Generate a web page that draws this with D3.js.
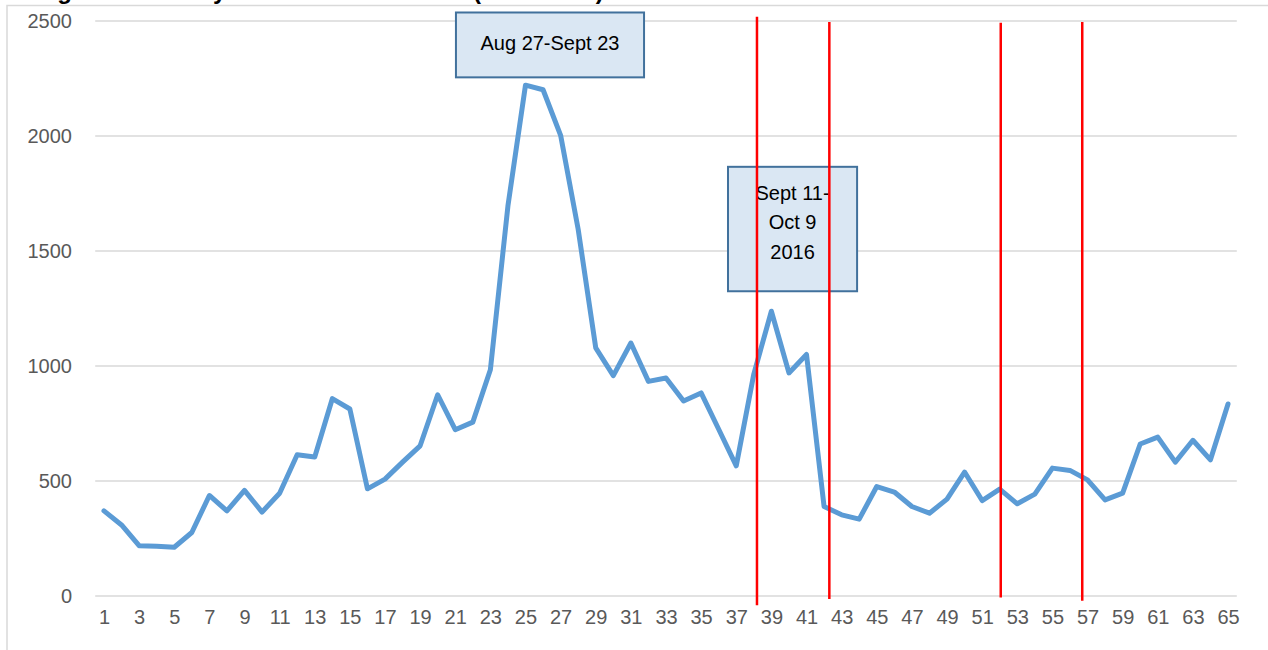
<!DOCTYPE html>
<html>
<head>
<meta charset="utf-8">
<script src="https://cdn.jsdelivr.net/npm/d3@7"></script>
<style>
  body { margin: 0; background: #fff; }
  svg { display: block; font-family: "Liberation Sans", Arial, sans-serif; }
</style>
</head>
<body>
<div id="chart"></div>
<script>
// data
const weeks = d3.range(1, 66)
const values = [370, 309, 219, 216, 212, 276, 437, 370, 459, 365,
                447, 614, 604, 858, 813, 466, 508, 582, 653, 875,
                723, 756, 984, 1696, 2221, 2201, 2003, 1594, 1079, 958,
                1100, 933, 948, 848, 883, 725, 566, 965, 1238, 970,
                1050, 389, 353, 334, 476, 452, 389, 360, 421, 539,
                415, 465, 401, 443, 556, 546, 505, 418, 447, 661,
                691, 582, 677, 592, 835]
const yTicks = [0, 500, 1000, 1500, 2000, 2500]
const xTicks = weeks.filter(w => w % 2 === 1)

// red marker lines (week position, top value, bottom value)
const markerWeeks = [38.18, 42.30, 52.06, 56.70]
const markerTops = [2518, 2496, 2492, 2496]
const markerBottoms = [-40, -13, -6, -21]

// text boxes (week / value extents)
const boxLabels = [["Aug 27-Sept 23"], ["Sept 11-", "Oct 9", "2016"]]
const boxWeeks = [[21.04, 31.75], [36.53, 43.88]]
const boxValues = [[2537, 2255], [1866, 1325]]
const boxTextOffset = [38, 33]

const titleText = "Figure 1: Weekly Tweet Volume Totals (2015-2016)"

// const
const width = 1268
const height = 650
const margin = { top: 21, bottom: 54, left: 95.2, right: 31.2 }

const svg = d3.select("#chart")
    .append("svg")
      .attr("width", width)
      .attr("height", height)

// scales
const x = d3.scaleLinear()
    .domain([0.5, 65.5])
    .range([margin.left, width - margin.right])

const y = d3.scaleLinear()
    .domain([0, 2500])
    .range([height - margin.bottom, margin.top])

// title (cut off at the top, as in the source) and chart frame
svg.append("text")
    .attr("x", 36)
    .attr("y", -1)
    .attr("font-size", 24)
    .attr("font-weight", "bold")
    .attr("fill", "#000")
    .text(titleText)

svg.append("rect")
    .attr("x", 7)
    .attr("y", 5.5)
    .attr("width", 1400)
    .attr("height", 800)
    .attr("fill", "none")
    .attr("stroke", "#d9d9d9")
    .attr("stroke-width", 1.5)

// gridlines
svg.append("g")
    .selectAll("line")
    .data(yTicks)
    .join("line")
      .attr("x1", x(0.5))
      .attr("x2", x(65.5))
      .attr("y1", d => y(d))
      .attr("y2", d => y(d))
      .attr("stroke", "#d9d9d9")
      .attr("stroke-width", 1.5)

// axes
let yAxis = d3.axisLeft(y).tickValues(yTicks).tickFormat(d3.format("d")).tickSize(0).tickPadding(0)
let yAxisGroup = svg.append("g")
    .attr("transform", `translate(72, 0)`)
    .call(yAxis)
yAxisGroup.select(".domain").remove()
yAxisGroup.selectAll("text")
    .attr("font-size", 20)
    .attr("font-family", "Liberation Sans, Arial, sans-serif")
    .attr("fill", "#595959")

let xAxis = d3.axisBottom(x).tickValues(xTicks).tickSize(0).tickPadding(0)
let xAxisGroup = svg.append("g")
    .attr("transform", `translate(0, ${y(0) + 14})`)
    .call(xAxis)
xAxisGroup.select(".domain").remove()
xAxisGroup.selectAll("text")
    .attr("font-size", 20)
    .attr("font-family", "Liberation Sans, Arial, sans-serif")
    .attr("fill", "#595959")

// text boxes
const boxes = svg.append("g")
    .selectAll("g")
    .data(boxLabels)
    .join("g")

boxes.append("rect")
    .attr("x", (d, i) => x(boxWeeks[i][0]))
    .attr("y", (d, i) => y(boxValues[i][0]))
    .attr("width", (d, i) => x(boxWeeks[i][1]) - x(boxWeeks[i][0]))
    .attr("height", (d, i) => y(boxValues[i][1]) - y(boxValues[i][0]))
    .attr("fill", "#dae7f3")
    .attr("stroke", "#41719c")
    .attr("stroke-width", 2)

boxes.each(function (lines, i) {
    const cx = (x(boxWeeks[i][0]) + x(boxWeeks[i][1])) / 2
    const top = y(boxValues[i][0])
    const t = d3.select(this).append("text")
        .attr("text-anchor", "middle")
        .attr("font-size", 20)
        .attr("fill", "#000")
    t.selectAll("tspan")
        .data(lines)
        .join("tspan")
          .attr("x", cx)
          .attr("y", (d, j) => top + boxTextOffset[i] + j * 29.5)
          .text(d => d)
})

// series line
svg.append("path")
    .datum(values)
    .attr("fill", "none")
    .attr("stroke", "#5b9bd5")
    .attr("stroke-width", 5)
    .attr("stroke-linejoin", "round")
    .attr("stroke-linecap", "round")
    .attr("d", d3.line()
        .x((d, i) => x(weeks[i]))
        .y(d => y(d)))

// red marker lines
svg.append("g")
    .selectAll("line")
    .data(markerWeeks)
    .join("line")
      .attr("x1", d => x(d))
      .attr("x2", d => x(d))
      .attr("y1", (d, i) => y(markerTops[i]))
      .attr("y2", (d, i) => y(markerBottoms[i]))
      .attr("stroke", "#ff0000")
      .attr("stroke-width", 2.5)
</script>
</body>
</html>
